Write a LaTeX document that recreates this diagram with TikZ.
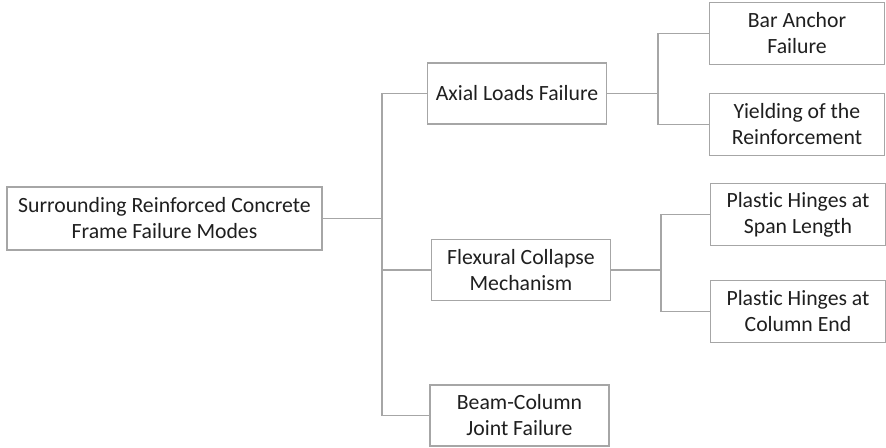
\documentclass[tikz,border=0pt]{standalone}
\usepackage{fontspec}
\setmainfont[RawFeature={-liga;-clig;-dlig;-calt}]{Carlito}
\usepackage{xcolor}
\usetikzlibrary{calc}
\definecolor{frameGray}{HTML}{A6A6A6}
\definecolor{textDark}{HTML}{1F1F1F}

\begin{document}
\begin{tikzpicture}[
    x=0.75pt, y=-0.75pt,
    font=\fontsize{16.3}{19.5}\selectfont,
    box/.style={draw=frameGray, line width=1.1pt, fill=white, text=textDark, align=center, inner sep=0pt},
    wide/.style={box, minimum width=315*0.75pt, minimum height=63*0.75pt},
    mid/.style={box, minimum width=179*0.75pt, minimum height=61*0.75pt},
    leaf/.style={box, minimum width=175*0.75pt, minimum height=62*0.75pt},
    link/.style={draw=frameGray, line width=1.1pt}
]
\useasboundingbox (0,0) rectangle (886,448);

\node[wide] (root) at (164.5,218.5) {Surrounding Reinforced Concrete\\Frame Failure Modes};

\node[mid] (axial) at (517,93.5) {Axial Loads Failure};
\node[mid] (flexural) at (521,270) {Flexural Collapse\\Mechanism};
\node[mid] (joint) at (519.5,415.5) {Beam-Column\\Joint Failure};

\node[leaf] (anchor) at (797,33.5) {Bar Anchor\\Failure};
\node[leaf] (yielding) at (797,124.5) {Yielding of the\\Reinforcement};
\node[leaf] (span) at (798,214.5) {Plastic Hinges at\\Span Length};
\node[leaf] (colend) at (798,311.5) {Plastic Hinges at\\Column End};

% junction points of the elbow connectors
\coordinate (jroot) at (382,218.5);
\coordinate (jaxial) at (658,93.5);
\coordinate (jflex) at (661,270);

\draw[link] (root.east) -- (jroot);
\draw[link] (axial.west) -| (jroot);
\draw[link] (flexural.west) -| (jroot);
\draw[link] (joint.west) -| (jroot);

\draw[link] (axial.east) -- (jaxial);
\draw[link] (anchor.west) -| (jaxial);
\draw[link] (yielding.west) -| (jaxial);

\draw[link] (flexural.east) -- (jflex);
\draw[link] (span.west) -| (jflex);
\draw[link] (colend.west) -| (jflex);

\end{tikzpicture}
\end{document}
